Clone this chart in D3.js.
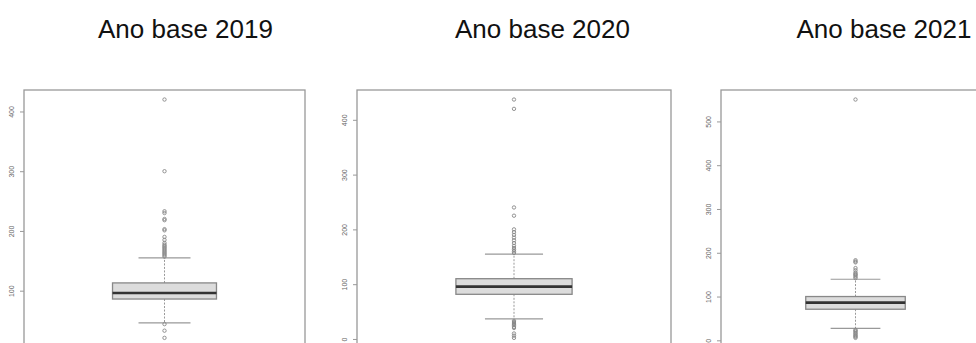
<!DOCTYPE html>
<html><head><meta charset="utf-8">
<script src="https://cdn.jsdelivr.net/npm/d3@7"></script>
<style>html,body{margin:0;padding:0;background:#fff;overflow:hidden}</style>
</head><body>
<svg id="chart" width="976" height="343"></svg>
<script>
// ---- data ----
const titles = ["Ano base 2019", "Ano base 2020", "Ano base 2021"];
// five-number summaries: [lower whisker, Q1, median, Q3, upper whisker]
const stats2019 = [46, 86, 96, 113, 155];
const stats2020 = [36.5, 81.5, 95.5, 110, 155];
const stats2021 = [27.5, 71, 86, 100, 139.5];
const outliers2019 = [21, 33, 44, 157, 159, 161, 163, 165, 167, 169, 171, 173, 175, 177, 180, 185, 190, 201, 203, 218, 220, 230, 233, 300, 420];
const outliers2020 = [2, 6, 10, 20, 22, 25, 27, 29, 31, 33, 157, 160, 163, 166, 170, 175, 180, 185, 190, 195, 200, 225, 240, 420, 437];
const outliers2021 = [5.6, 8, 10, 12, 15, 17, 20, 22, 24, 142, 145, 148, 150, 152, 155, 160, 165, 178, 180, 183, 550];
const ticks2019 = [100, 200, 300, 400];
const ticks2020 = [0, 100, 200, 300, 400];
const ticks2021 = [0, 100, 200, 300, 400, 500];

const panels = [
  {title: titles[0], stats: stats2019, out: outliers2019, ticks: ticks2019, x0: 24, x1: 305, tx: 185.5},
  {title: titles[1], stats: stats2020, out: outliers2020, ticks: ticks2020, x0: 357, x1: 671, tx: 542.5},
  {title: titles[2], stats: stats2021, out: outliers2021, ticks: ticks2021, x0: 721, x1: 990, tx: 884}
];

const svg = d3.select("#chart");
const plotTop = 90, plotBottom = 347.4;

panels.forEach(p => {
  const g = svg.append("g");
  const all = p.stats.concat(p.out);
  const [mn, mx] = d3.extent(all);
  const pad = (mx - mn) * 0.04;
  const y = d3.scaleLinear().domain([mn - pad, mx + pad]).range([plotBottom, plotTop]);
  const x = d3.scaleLinear().domain([0, 1]).range([p.x0, p.x1]);
  const cx = x(0.5);
  const bw = (p.x1 - p.x0) * 0.37;

  // title
  svg.append("text").attr("x", p.tx).attr("y", 38)
    .attr("text-anchor", "middle")
    .style("font-family", "'Liberation Sans', Arial, sans-serif")
    .style("font-size", "26px").attr("fill", "#111").text(p.title);

  // plot border
  g.append("rect").attr("x", p.x0).attr("y", plotTop)
    .attr("width", p.x1 - p.x0).attr("height", plotBottom - plotTop)
    .attr("fill", "none").attr("stroke", "#999").attr("stroke-width", 1.3);

  // axis
  const axis = d3.axisLeft(y).tickValues(p.ticks).tickSize(4).tickFormat(d3.format("d"));
  const ag = g.append("g").attr("transform", `translate(${p.x0},0)`).call(axis);
  ag.select(".domain").attr("stroke", "none");
  ag.selectAll(".tick line").attr("stroke", "#999");
  ag.selectAll(".tick text")
    .attr("x", null).attr("dy", null)
    .attr("transform", "translate(-13,0) rotate(-90)")
    .attr("text-anchor", "middle").attr("dominant-baseline", "central")
    .style("font-family", "'Liberation Sans', Arial, sans-serif")
    .style("font-size", "7px").attr("fill", "#666");

  const [lw, q1, med, q3, uw] = p.stats;
  // whiskers
  g.append("line").attr("x1", cx).attr("x2", cx).attr("y1", y(q3)).attr("y2", y(uw))
    .attr("stroke", "#999").attr("stroke-dasharray", "2,1.5").attr("stroke-width", 1);
  g.append("line").attr("x1", cx).attr("x2", cx).attr("y1", y(q1)).attr("y2", y(lw))
    .attr("stroke", "#999").attr("stroke-dasharray", "2,1.5").attr("stroke-width", 1);
  [lw, uw].forEach(v => g.append("line")
    .attr("x1", cx - bw / 4).attr("x2", cx + bw / 4).attr("y1", y(v)).attr("y2", y(v))
    .attr("stroke", "#999").attr("stroke-width", 1.2));
  // box
  g.append("rect").attr("x", cx - bw / 2).attr("y", y(q3))
    .attr("width", bw).attr("height", y(q1) - y(q3))
    .attr("fill", "#dcdcdc").attr("stroke", "#888").attr("stroke-width", 1.3);
  g.append("line").attr("x1", cx - bw / 2).attr("x2", cx + bw / 2)
    .attr("y1", y(med)).attr("y2", y(med))
    .attr("stroke", "#333").attr("stroke-width", 2.6);
  // outliers
  g.selectAll("circle.o").data(p.out).enter().append("circle")
    .attr("cx", cx).attr("cy", d => y(d)).attr("r", 1.7)
    .attr("fill", "none").attr("stroke", "#888").attr("stroke-width", 0.9);
});
</script>
</body></html>
